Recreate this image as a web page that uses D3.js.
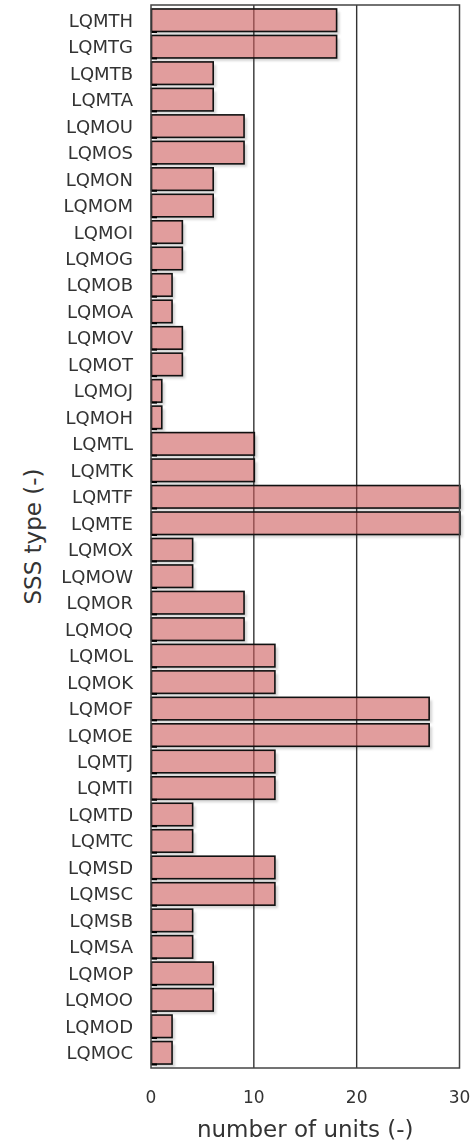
<!DOCTYPE html>
<html><head><meta charset="utf-8">
<script src="https://cdn.jsdelivr.net/npm/d3@7"></script>
<style>body{margin:0;background:#fff}svg{display:block}</style>
</head><body>
<script>
const categories = ["LQMTH","LQMTG","LQMTB","LQMTA","LQMOU","LQMOS","LQMON","LQMOM","LQMOI","LQMOG","LQMOB","LQMOA","LQMOV","LQMOT","LQMOJ","LQMOH","LQMTL","LQMTK","LQMTF","LQMTE","LQMOX","LQMOW","LQMOR","LQMOQ","LQMOL","LQMOK","LQMOF","LQMOE","LQMTJ","LQMTI","LQMTD","LQMTC","LQMSD","LQMSC","LQMSB","LQMSA","LQMOP","LQMOO","LQMOD","LQMOC"];
const values = [18,18,6,6,9,9,6,6,3,3,2,2,3,3,1,1,10,10,30,30,4,4,9,9,12,12,27,27,12,12,4,4,12,12,4,4,6,6,2,2];
const xTicks = [0,10,20,30];
const xTitle = "number of units (-)";
const yTitle = "SSS type (-)";

(function(){
const W = 473, H = 1143;
const pL = 151, pR = 459.5, pT = 5, pB = 1068;
const svg = d3.select("body").append("svg").attr("width", W).attr("height", H);
const font = "DejaVu Sans, Verdana, sans-serif";

const x = d3.scaleLinear().domain([0,30]).range([pL,pR]);
const y = d3.scaleBand().domain(categories).range([pT,pB]).padding(0.15);
const rows = values.map((v,i)=>({c:categories[i], v}));

// shadows
const defs = svg.append("defs");
defs.append("filter").attr("id","blur").append("feGaussianBlur").attr("stdDeviation",0.8);
svg.append("g").attr("filter","url(#blur)").selectAll("rect").data(rows).join("rect")
  .attr("x", pL+3.5).attr("y", d=>y(d.c)+3)
  .attr("width", d=>x(d.v)-pL).attr("height", y.bandwidth())
  .attr("fill", "#c4c4c4").attr("opacity", 0.7);

// white underlay so the shadow does not tint the bars
svg.append("g").selectAll("rect").data(rows).join("rect")
  .attr("x", pL+0.5).attr("y", d=>y(d.c))
  .attr("width", d=>x(d.v)-pL).attr("height", y.bandwidth())
  .attr("fill", "#fff");

// grid
svg.append("g").selectAll("line").data(xTicks.slice(1,-1)).join("line")
  .attr("x1", d=>x(d)).attr("x2", d=>x(d)).attr("y1", pT).attr("y2", pB)
  .attr("stroke", "#333").attr("stroke-width", 1.4);

// bars
svg.append("g").selectAll("rect").data(rows).join("rect")
  .attr("x", pL+0.5).attr("y", d=>y(d.c))
  .attr("width", d=>x(d.v)-pL).attr("height", y.bandwidth())
  .attr("fill", "rgb(205,92,92)").attr("fill-opacity", 0.6)
  .attr("stroke", "#111").attr("stroke-width", 1.6);

// small marks at bar bottoms
svg.append("g").selectAll("rect").data(categories).join("rect")
  .attr("x", pL).attr("y", d=>y(d)+y.bandwidth()-0.5)
  .attr("width", 6).attr("height", 2).attr("fill", "#000");

// frame
svg.append("rect").attr("x", pL).attr("y", pT).attr("width", pR-pL).attr("height", pB-pT)
  .attr("fill","none").attr("stroke","#444").attr("stroke-width",1.5);

// y labels
svg.append("g").selectAll("text").data(categories).join("text")
  .attr("x", pL-18).attr("y", d=>y(d)+y.bandwidth()/2).attr("dy","0.36em")
  .attr("text-anchor","end").attr("font-family",font).attr("font-size",18).attr("fill","#333")
  .text(d=>d);

// x tick labels
svg.append("g").selectAll("text").data(xTicks).join("text")
  .attr("x", d=>x(d)).attr("y", 1103).attr("text-anchor","middle")
  .attr("font-family",font).attr("font-size",17).attr("fill","#333").text(d=>d);

// axis titles
svg.append("text").attr("x", (pL+pR)/2).attr("y", 1137).attr("text-anchor","middle")
  .attr("font-family",font).attr("font-size",23).attr("fill","#333").text(xTitle);
svg.append("text").attr("transform", `translate(41,${(pT+pB)/2}) rotate(-90)`).attr("text-anchor","middle")
  .attr("font-family",font).attr("font-size",23).attr("fill","#333").text(yTitle);
})();
</script>
</body></html>
